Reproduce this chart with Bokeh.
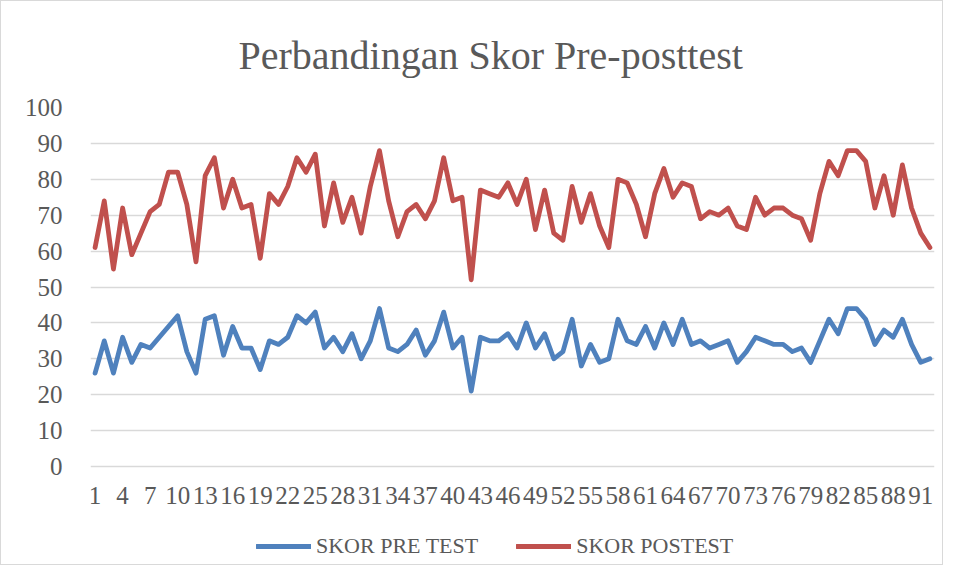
from bokeh.plotting import figure
from bokeh.models import Range1d, FixedTicker, Legend, LegendItem, ColumnDataSource
from bokeh.embed import file_html
from bokeh.resources import INLINE

# ---- data ----
students = list(range(1, 93))
pre_test = [26, 35, 26, 36, 29, 34, 33, 36, 39, 42,
            32, 26, 41, 42, 31, 39, 33, 33, 27, 35,
            34, 36, 42, 40, 43, 33, 36, 32, 37, 30,
            35, 44, 33, 32, 34, 38, 31, 35, 43, 33,
            36, 21, 36, 35, 35, 37, 33, 40, 33, 37,
            30, 32, 41, 28, 34, 29, 30, 41, 35, 34,
            39, 33, 40, 34, 41, 34, 35, 33, 34, 35,
            29, 32, 36, 35, 34, 34, 32, 33, 29, 35,
            41, 37, 44, 44, 41, 34, 38, 36, 41, 34,
            29, 30]
post_test = [61, 74, 55, 72, 59, 65, 71, 73, 82, 82,
             73, 57, 81, 86, 72, 80, 72, 73, 58, 76,
             73, 78, 86, 82, 87, 67, 79, 68, 75, 65,
             78, 88, 74, 64, 71, 73, 69, 74, 86, 74,
             75, 52, 77, 76, 75, 79, 73, 80, 66, 77,
             65, 63, 78, 68, 76, 67, 61, 80, 79, 73,
             64, 76, 83, 75, 79, 78, 69, 71, 70, 72,
             67, 66, 75, 70, 72, 72, 70, 69, 63, 76,
             85, 81, 88, 88, 85, 72, 81, 70, 84, 72,
             65, 61]
x_tick_values = list(range(1, 93, 3))
y_tick_values = [0, 10, 20, 30, 40, 50, 60, 70, 80, 90, 100]
series_names = ["SKOR PRE TEST", "SKOR POSTEST"]
title_text = "Perbandingan Skor Pre-posttest"

BLUE = "#4F81BD"
RED = "#C0504D"
TXT = "#595959"
FONT = "Liberation Serif"

# layout (pixels): frame top 106, value 0 at 465, frame bottom 560
TOP, ZERO, BOTTOM = 106, 465, 560
y_low = -(BOTTOM - ZERO) * 100.0 / (ZERO - TOP)

src = ColumnDataSource(dict(x=students, pre=pre_test, post=post_test))

p = figure(width=943, height=565, output_backend="svg", toolbar_location=None,
           x_range=Range1d(0.5, 92.5), y_range=Range1d(y_low, 100),
           min_border_left=89, min_border_right=10,
           min_border_top=TOP, min_border_bottom=565 - BOTTOM)
p.styles = {"border": "1px solid #d9d9d9"}
p.outline_line_color = None
p.background_fill_color = "white"
p.border_fill_color = "white"

p.title.text = title_text
p.title.align = "left"
p.title.offset = 148
p.title.text_font = FONT
p.title.text_font_size = "40px"
p.title.text_font_style = "normal"
p.title.text_color = TXT
p.title.standoff = 59

r_pre = p.line("x", "pre", source=src, line_color=BLUE, line_width=4.8,
               line_join="round", line_cap="round")
r_post = p.line("x", "post", source=src, line_color=RED, line_width=4.8,
                line_join="round", line_cap="round")

p.xaxis.ticker = FixedTicker(ticks=x_tick_values)
p.xaxis.fixed_location = 0
p.yaxis.ticker = FixedTicker(ticks=y_tick_values)
for ax in (p.xaxis, p.yaxis):
    ax.axis_line_color = None
    ax.major_tick_line_color = None
    ax.minor_tick_line_color = None
    ax.major_label_text_font = FONT
    ax.major_label_text_font_size = "25px"
    ax.major_label_text_color = TXT
p.yaxis.major_label_standoff = 22
p.xaxis.major_label_standoff = 14

p.xgrid.grid_line_color = None
p.ygrid.grid_line_color = "#D9D9D9"
p.ygrid.grid_line_width = 1.5

legend = Legend(items=[LegendItem(label=series_names[0], renderers=[r_pre]),
                       LegendItem(label=series_names[1], renderers=[r_post])],
                orientation="horizontal", location=(166, 2),
                glyph_width=55, glyph_height=20, label_standoff=5, spacing=38,
                padding=0, margin=0, border_line_color=None,
                background_fill_alpha=0,
                label_text_font=FONT, label_text_font_size="22px",
                label_text_color=TXT)
p.add_layout(legend, "center")

open("out.html", "w").write(file_html(p, INLINE))
